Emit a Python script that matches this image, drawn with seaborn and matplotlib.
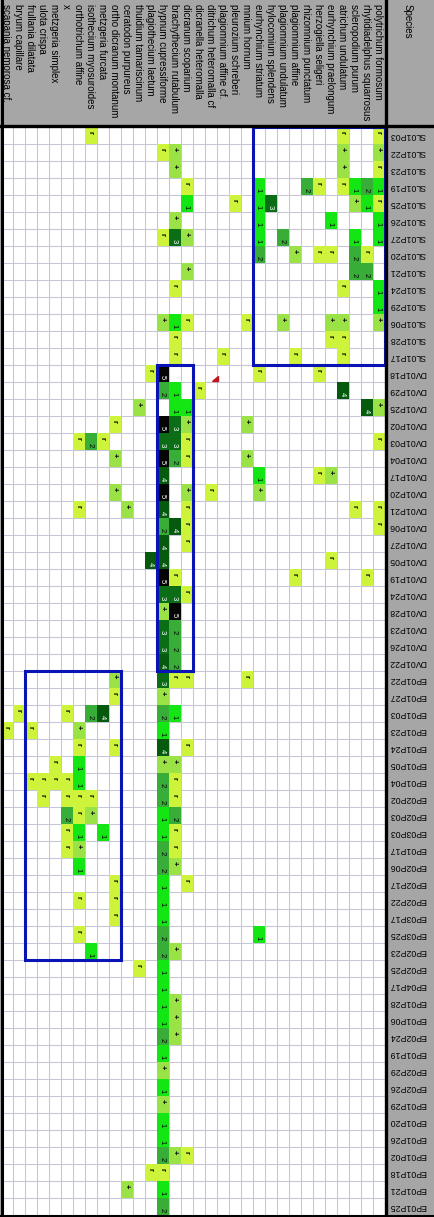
import numpy as np
import pandas as pd
import matplotlib
matplotlib.use('Agg')
import matplotlib.pyplot as plt
import matplotlib.patches as patches
import matplotlib.transforms as mtransforms
from matplotlib.colors import ListedColormap
from matplotlib.lines import Line2D
import seaborn as sns

plt.rcParams['font.family'] = ['Liberation Sans', 'DejaVu Sans']

# 物种（列）
species = ['scapania nemorosa cf.', 'bryum capillare', 'frullania dilatata', 'ulota crispa',
           'metzgeria simplex', 'x', 'orthotrichum affine', 'isothecium myosuroides',
           'metzgeria furcata', 'ortho dicranum montanum', 'ceratodon purpureus',
           'thuidium tamariscinum', 'plagiothecium laetum', 'hypnum cupressiforme',
           'brachythecium rutabulum', 'dicranum scoparium', 'dicranella heteromalla',
           'ditrichum heteromalla cf', 'plagiomnium affine cf.', 'pleurozium schreberi',
           'mnium hornum', 'eurhynchium striatum', 'hylocomium splendens',
           'plagiomnium undulatum', 'plagiomnium affine', 'rhizomnium punctatum',
           'herzogiella seligeri', 'eurhynchium praelongum', 'atrichum undulatum',
           'scleropodium purum', 'rhytidiadelphus squarrosus', 'polytrichum formosum']

# 样地（行）
sl_sites = ['SL01P03', 'SL01P22', 'SL01P23', 'SL01P19', 'SL01P25', 'SL01P26', 'SL01P27',
            'SL01P20', 'SL01P21', 'SL01P24', 'SL01P29', 'SL01P06', 'SL01P28', 'SL01P17']
dv_sites = ['DV01P18', 'DV01P29', 'DV01P25', 'DV01P02', 'DV01P03', 'DV01P04', 'DV01P17',
            'DV01P20', 'DV01P21', 'DV01P06', 'DV01P27', 'DV01P05', 'DV01P19', 'DV01P24',
            'DV01P28', 'DV01P23', 'DV01P26', 'DV01P22']
ep_sites = ['EP01P22', 'EP01P27', 'EP01P03', 'EP01P23', 'EP01P24', 'EP01P05', 'EP01P04',
            'EP02P02', 'EP02P03', 'EP03P03', 'EP01P17', 'EP02P06', 'EP02P17', 'EP02P22',
            'EP03P17', 'EP03P25', 'EP02P23', 'EP02P25', 'EP04P17', 'EP01P28', 'EP01P06',
            'EP02P24', 'EP01P19', 'EP02P29', 'EP02P26', 'EP01P29', 'EP01P20', 'EP01P26',
            'EP01P02', 'EP01P18', 'EP01P21', 'EP01P25']

# 覆盖度等级，每行32列（空格只是为了好数）
sl_cells = [
    '.......r ........ ........ ....r..r',
    '........ .....r+. ........ ....+..+',
    '........ ......+. ........ ....+..r',
    '........ .......r .....1.. .2r.r121',
    '........ .......1 ...r.13. .....+1r',
    '........ ......+. .....1.. ...1...1',
    '........ .....r3+ .....1.2 .....1.1',
    '........ ........ .....2.. +.rr.2r.',
    '........ .......+ ........ .....22.',
    '........ ......r. ........ ....r..1',
    '........ ........ ........ .......1',
    '........ .....+1r ....r..+ ...++..+',
    '........ ......r. ........ ...rr...',
    '........ ......r. ..r..... r...r...',
]
dv_cells = [
    '........ ....r5.. .....r.. ..r.....',
    '........ .....21. r....... ....4...',
    '........ ...+..11 ........ ......4+',
    '........ .r...53+ ....+... ........',
    '......r2 r....33r ........ .......r',
    '........ .+...52r ....+... ........',
    '........ .....4.. .....1.. ..r+....',
    '........ .+...5.+ .r...+.. ........',
    '......r. ..+..4.r ........ .....r.r',
    '........ .....24r ........ .......r',
    '........ .....4.r ........ ........',
    '........ ....44.. ........ ...r....',
    '........ .....5r. ........ r.....r.',
    '........ .....33r ........ ........',
    '........ .....+5. ........ ........',
    '........ .....32. ........ ........',
    '........ .....32. ........ ........',
    '........ .....42. ........ ........',
]
ep_cells = [
    '........ .+...3rr ....r... ........',
    '........ .r...+.. ........ ........',
    '.r...r.2 4....21. ........ ........',
    'r.r...+. .....1.. ........ ........',
    '......r. .r...4.r ........ ........',
    '....r.1. .....++. ........ ........',
    '..rrrr1. .....2r. ........ ........',
    '...r.rrr .....2r. ........ ........',
    '.....2r+ .....12. ........ ........',
    '.....r1. 1....1r. ........ ........',
    '.....r+. .....2r. ........ ........',
    '......1. .....2+. ........ ........',
    '........ .r...1.r ........ ........',
    '......r. .r...1.. ........ ........',
    '........ .r...1.. ........ ........',
    '......r. .....2.. .....1.. ........',
    '.......1 .....2+. ........ ........',
    '........ ...r.1.. ........ ........',
    '........ .....1.. ........ ........',
    '........ .....1+. ........ ........',
    '........ .....1+. ........ ........',
    '........ .....2+. ........ ........',
    '........ .....1.. ........ ........',
    '........ .....+.. ........ ........',
    '........ .....1.. ........ ........',
    '........ .....+.. ........ ........',
    '........ .....1.. ........ ........',
    '........ .....1.. ........ ........',
    '........ .....2+r ........ ........',
    '........ ....rr.. ........ ........',
    '........ ..+..1.. ........ ........',
    '........ .....2.. ........ ........',
]

cover_scale = ['r', '+', '1', '2', '3', '4', '5']
cover_colors = ['#cdf33a', '#9be246', '#14e614', '#38ad38', '#0b6e16', '#065a0e', '#050505']
text_colors = ['black', 'black', 'black', 'black', 'white', 'white', 'white']

# 蓝框：(第一个样地, 最后一个样地, 第一个物种, 最后一个物种)
boxes = [('SL01P03', 'SL01P17', 'eurhynchium striatum', 'polytrichum formosum'),
         ('DV01P18', 'DV01P22', 'hypnum cupressiforme', 'dicranum scoparium'),
         ('EP01P22', 'EP02P23', 'frullania dilatata', 'ortho dicranum montanum')]

sites = sl_sites + dv_sites + ep_sites
rows = [r.replace(' ', '') for r in sl_cells + dv_cells + ep_cells]
codes = pd.DataFrame([[cover_scale.index(c) if c != '.' else np.nan for c in r] for r in rows],
                     index=sites, columns=species)

W, H = 434, 1217
grey = '#a6a6a6'
fig = plt.figure(figsize=(W / 100, H / 100), dpi=100, facecolor=grey)
ax = fig.add_axes([1 / W, (H - 1215) / H, 384 / W, 1088 / H])
ax.set_facecolor('white')

sns.heatmap(codes, ax=ax, cmap=ListedColormap(cover_colors), vmin=-0.5, vmax=6.5,
            cbar=False, xticklabels=False, yticklabels=sites, linewidths=0)

# 网格
ax.set_xticks(np.arange(len(species) + 1), minor=True)
ax.set_yticks(np.arange(len(sites) + 1), minor=True)
ax.grid(which='minor', color='#c6c6d6', linewidth=0.75)
ax.set_axisbelow(True)
ax.tick_params(which='both', length=0)

# 单元格文字
for i, r in enumerate(rows):
    for j, c in enumerate(r):
        if c == '.':
            continue
        k = cover_scale.index(c)
        yoff = 0.3 if c in 'r+' else 0.7
        ax.text(j + 0.42, i + yoff, c, rotation=-90, ha='center', va='center',
                fontsize=5.5, color=text_colors[k], fontweight='bold' if c in 'r+' else 'normal')

# 右侧样地名
ax.yaxis.tick_right()
ax.tick_params(axis='y', pad=16, labelsize=6.3)
plt.setp(ax.get_yticklabels(), rotation=180, ha='center', va='center', rotation_mode='anchor')

# 顶部物种名
trans = mtransforms.blended_transform_factory(ax.transData, fig.transFigure)
for j, name in enumerate(species):
    ax.text(j + 0.4, 1 - 4 / H, name, transform=trans, rotation=-90, ha='center', va='top',
            fontsize=7)
fig.text(408 / W, 1 - 4 / H, 'Species', rotation=-90, ha='center', va='top', fontsize=7)

# 蓝框
for s0, s1, p0, p1 in boxes:
    y0, y1 = sites.index(s0), sites.index(s1) + 1
    x0, x1 = species.index(p0), species.index(p1) + 1
    ax.add_patch(patches.Rectangle((x0, y0), x1 - x0, y1 - y0, fill=False,
                                   edgecolor='#0a14b4', linewidth=2.2, clip_on=False, zorder=5))

# 批注小红三角
cj, ci = species.index('ditrichum heteromalla cf'), sites.index('DV01P18')
ax.add_patch(patches.Polygon([[cj + 0.58, ci + 0.95], [cj + 1.05, ci + 0.95], [cj + 1.05, ci + 0.62]],
                             closed=True, color='#c0141e', clip_on=False, zorder=6))

for sp in ax.spines.values():
    sp.set_visible(False)

# 黑色粗边框
def fline(x, y, lw):
    fig.add_artist(Line2D(x, y, transform=fig.transFigure, color='black', linewidth=lw))

fline([1.5 / W, 1.5 / W], [0, 1], 2.2)
fline([385.5 / W, 385.5 / W], [0, 1], 2.4)
fline([0, 1], [1 - 125.5 / H, 1 - 125.5 / H], 2.4)
fline([0, 1], [1.5 / H, 1.5 / H], 2.2)

fig.savefig('out.png', dpi=100, facecolor=grey)
